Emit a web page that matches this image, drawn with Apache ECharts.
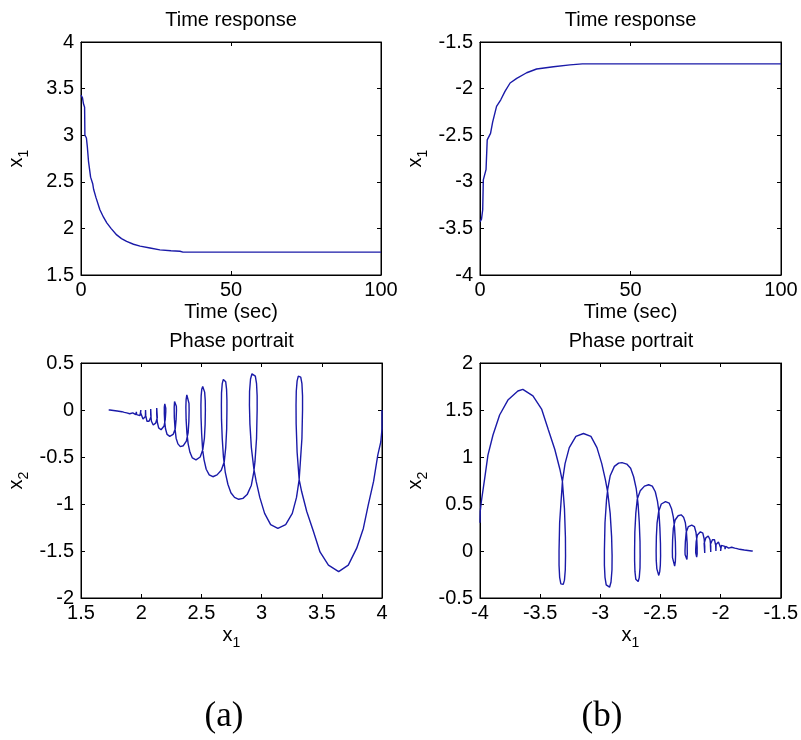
<!DOCTYPE html>
<html><head><meta charset="utf-8">
<script src="https://cdn.jsdelivr.net/npm/echarts/dist/echarts.min.js"></script>
<style>html,body{margin:0;padding:0;background:#fff}#c{width:801px;height:740px}</style>
</head><body><div id="c"></div>
<script>
// ---- data ----
const timeA_t  = [0,0.5,0.8,1.2,1.3,1.8,2.1,2.5,3.2,3.9,4.2,5,6.3,7.5,8.6,10,11.9,13.5,15.2,17.5,19.7,23,26.3,30,33,34,100];
const timeA_x1 = [3.43,3.40,3.34,3.30,3.00,2.97,2.88,2.72,2.55,2.48,2.42,2.33,2.20,2.12,2.06,2.00,1.93,1.89,1.86,1.83,1.81,1.79,1.77,1.76,1.755,1.745,1.745];
const timeB_t  = [0,0.5,0.9,1.1,2.0,2.4,3.5,4.2,5.5,6.9,8.3,10,12.2,15.5,18.8,24.4,29.9,34,100];
const timeB_x1 = [-3.43,-3.40,-3.30,-2.98,-2.87,-2.55,-2.48,-2.36,-2.19,-2.12,-2.03,-1.94,-1.89,-1.83,-1.79,-1.765,-1.745,-1.735,-1.735];

const phaseA = [
[4.000,0.000],[4.000,-0.200],[3.990,-0.340],[3.965,-0.480],[3.930,-0.760],[3.886,-1.010],[3.845,-1.260],[3.790,-1.470],[3.720,-1.650],[3.640,-1.720],[3.555,-1.650],[3.485,-1.510],[3.430,-1.290],[3.375,-1.080],[3.333,-0.870],[3.312,-0.740],[3.295,-0.450],[3.287,-0.150],
[3.286,0.050],[3.288,0.200],[3.295,0.310],[3.305,0.360],[3.315,0.370],[3.325,0.350],[3.335,0.280],[3.340,0.150],[3.340,0.000],
[3.335,-0.300],[3.322,-0.550],[3.312,-0.740],[3.290,-0.930],[3.255,-1.100],[3.200,-1.220],[3.135,-1.260],[3.075,-1.220],[3.025,-1.100],[2.985,-0.930],[2.955,-0.760],[2.935,-0.620],[2.915,-0.400],[2.903,-0.150],
[2.899,0.050],[2.900,0.200],[2.908,0.330],[2.920,0.385],[2.935,0.390],[2.948,0.360],[2.958,0.280],[2.963,0.150],[2.963,0.000],
[2.958,-0.300],[2.945,-0.550],[2.935,-0.660],[2.915,-0.800],[2.880,-0.900],[2.845,-0.940],[2.810,-0.950],[2.775,-0.930],[2.745,-0.880],[2.720,-0.790],[2.698,-0.660],[2.683,-0.500],[2.673,-0.300],[2.667,-0.100],
[2.666,0.050],[2.667,0.180],[2.673,0.280],[2.682,0.325],[2.692,0.330],[2.702,0.300],[2.709,0.220],[2.712,0.100],[2.712,0.000],
[2.710,-0.200],[2.702,-0.400],[2.690,-0.550],[2.665,-0.640],[2.630,-0.690],[2.595,-0.710],[2.565,-0.690],[2.540,-0.630],[2.522,-0.530],[2.510,-0.420],[2.502,-0.250],[2.497,-0.080],
[2.496,0.050],[2.498,0.150],[2.503,0.220],[2.511,0.250],[2.520,0.240],[2.527,0.190],[2.532,0.100],[2.533,0.000],
[2.531,-0.150],[2.525,-0.300],[2.512,-0.420],[2.490,-0.500],[2.455,-0.530],[2.425,-0.510],[2.405,-0.450],[2.390,-0.360],[2.380,-0.250],[2.373,-0.100],
[2.371,0.030],[2.373,0.110],[2.379,0.160],[2.386,0.170],[2.393,0.140],[2.397,0.070],[2.398,0.000],
[2.396,-0.120],[2.390,-0.240],[2.375,-0.330],[2.350,-0.380],[2.325,-0.390],[2.305,-0.360],[2.290,-0.300],[2.281,-0.200],[2.275,-0.080],
[2.274,0.030],[2.277,0.090],[2.283,0.110],[2.289,0.090],[2.292,0.040],[2.293,0.000],
[2.290,-0.100],[2.283,-0.200],[2.265,-0.260],[2.237,-0.280],[2.215,-0.260],[2.202,-0.200],[2.195,-0.120],[2.192,-0.040],
[2.192,0.030],[2.196,0.065],[2.201,0.060],[2.204,0.020],[2.204,-0.020],
[2.200,-0.100],[2.190,-0.170],[2.165,-0.210],[2.145,-0.190],[2.134,-0.130],[2.129,-0.050],
[2.129,0.020],[2.133,0.040],[2.137,0.030],[2.138,0.000],
[2.134,-0.080],[2.120,-0.140],[2.100,-0.160],[2.085,-0.120],[2.079,-0.050],
[2.079,0.010],[2.083,0.020],[2.086,0.000],
[2.082,-0.070],[2.065,-0.120],[2.048,-0.120],[2.038,-0.060],[2.036,0.000],[2.040,0.005],[2.042,-0.010],
[2.035,-0.070],[2.015,-0.095],[2.000,-0.080],[1.995,-0.030],[1.997,0.000],
[1.990,-0.060],[1.975,-0.075],[1.962,-0.050],[1.960,-0.020],
[1.955,-0.050],[1.940,-0.055],[1.930,-0.030],
[1.920,-0.040],[1.905,-0.040],[1.895,-0.025],
[1.880,-0.030],[1.860,-0.025],[1.840,-0.018],[1.800,-0.010],[1.770,-0.005],[1.740,0.000],[1.730,0.000]
];

const phaseB = [
[-4.000,0.300],[-3.998,0.420],[-3.989,0.524],[-3.961,0.773],[-3.934,1.020],[-3.892,1.234],[-3.837,1.447],[-3.768,1.606],[-3.685,1.702],[-3.644,1.720],[-3.560,1.650],[-3.488,1.510],[-3.432,1.290],[-3.378,1.080],[-3.336,0.870],[-3.315,0.740],[-3.298,0.450],[-3.290,0.150],
[-3.289,-0.050],[-3.291,-0.200],[-3.298,-0.310],[-3.308,-0.355],[-3.318,-0.370],[-3.328,-0.350],[-3.338,-0.280],[-3.343,-0.150],[-3.343,0.000],
[-3.338,0.300],[-3.325,0.550],[-3.315,0.740],[-3.293,0.930],[-3.258,1.100],[-3.203,1.220],[-3.140,1.250],[-3.078,1.220],[-3.028,1.100],[-2.988,0.930],[-2.958,0.760],[-2.938,0.620],[-2.918,0.400],[-2.906,0.150],
[-2.902,-0.050],[-2.903,-0.200],[-2.911,-0.330],[-2.923,-0.385],[-2.938,-0.395],[-2.951,-0.360],[-2.961,-0.280],[-2.966,-0.150],[-2.966,0.000],
[-2.961,0.300],[-2.948,0.550],[-2.938,0.660],[-2.918,0.800],[-2.883,0.900],[-2.848,0.935],[-2.820,0.940],[-2.780,0.925],[-2.748,0.880],[-2.723,0.790],[-2.701,0.660],[-2.686,0.500],[-2.676,0.300],[-2.670,0.100],
[-2.669,-0.050],[-2.670,-0.180],[-2.676,-0.280],[-2.685,-0.325],[-2.695,-0.330],[-2.705,-0.300],[-2.712,-0.220],[-2.715,-0.100],[-2.715,0.000],
[-2.713,0.200],[-2.705,0.400],[-2.693,0.550],[-2.668,0.640],[-2.633,0.690],[-2.598,0.705],[-2.568,0.690],[-2.543,0.630],[-2.525,0.530],[-2.513,0.420],[-2.505,0.250],[-2.500,0.080],
[-2.499,-0.050],[-2.501,-0.150],[-2.506,-0.220],[-2.514,-0.260],[-2.523,-0.245],[-2.530,-0.190],[-2.535,-0.100],[-2.536,0.000],
[-2.534,0.150],[-2.528,0.300],[-2.515,0.420],[-2.493,0.500],[-2.458,0.525],[-2.428,0.510],[-2.408,0.450],[-2.393,0.360],[-2.383,0.250],[-2.376,0.100],
[-2.374,-0.030],[-2.376,-0.110],[-2.382,-0.160],[-2.389,-0.170],[-2.396,-0.140],[-2.400,-0.070],[-2.401,0.000],
[-2.399,0.120],[-2.393,0.240],[-2.378,0.330],[-2.353,0.375],[-2.328,0.385],[-2.308,0.360],[-2.293,0.300],[-2.284,0.200],[-2.278,0.080],
[-2.277,-0.030],[-2.280,-0.090],[-2.286,-0.110],[-2.292,-0.090],[-2.295,-0.040],[-2.296,0.000],
[-2.293,0.100],[-2.286,0.200],[-2.268,0.260],[-2.240,0.275],[-2.218,0.260],[-2.205,0.200],[-2.198,0.120],[-2.195,0.040],
[-2.195,-0.030],[-2.199,-0.065],[-2.204,-0.060],[-2.207,-0.020],[-2.207,0.020],
[-2.203,0.100],[-2.193,0.170],[-2.168,0.205],[-2.148,0.190],[-2.137,0.130],[-2.132,0.050],
[-2.132,-0.020],[-2.136,-0.040],[-2.140,-0.030],[-2.141,0.000],
[-2.137,0.080],[-2.123,0.140],[-2.103,0.160],[-2.088,0.120],[-2.082,0.050],
[-2.082,-0.010],[-2.086,-0.020],[-2.089,0.000],
[-2.085,0.070],[-2.068,0.120],[-2.051,0.120],[-2.041,0.060],[-2.039,0.000],[-2.043,-0.005],[-2.045,0.010],
[-2.038,0.070],[-2.018,0.095],[-2.003,0.080],[-1.998,0.030],[-2.000,0.000],
[-1.993,0.060],[-1.978,0.075],[-1.965,0.050],[-1.963,0.020],
[-1.958,0.050],[-1.943,0.055],[-1.933,0.030],
[-1.923,0.040],[-1.908,0.040],[-1.898,0.025],
[-1.883,0.030],[-1.863,0.025],[-1.843,0.018],[-1.803,0.010],[-1.773,0.005],[-1.743,0.000],[-1.733,0.000]
];

const titles = ['Time response','Time response','Phase portrait','Phase portrait'];
const panelLabels = ['(a)','(b)'];
const xRanges = [[0,100,50],[0,100,50],[1.5,4,0.5],[-4,-1.5,0.5]];
const yRanges = [[1.5,4,0.5],[-4,-1.5,0.5],[-2,0.5,0.5],[-0.5,2,0.5]];

// ---- layout / style ----
const FONT = '"Liberation Sans", Arial, Helvetica, sans-serif';
const LINE = '#1a1aa8';
const grids = [
  {left:81, top:42, width:300, height:233},
  {left:480, top:42, width:301, height:233},
  {left:81, top:363, width:301, height:235},
  {left:480, top:363, width:302, height:235}
];
const rich = {
  i:{fontSize:20, fontFamily:FONT, color:'#000', lineHeight:30, verticalAlign:'middle'},
  s:{fontSize:14, fontFamily:FONT, color:'#000', lineHeight:14, verticalAlign:'bottom'}
};
function baseAxis(gi, r, pos, showLabel){
  return {
    type:'value', gridIndex:gi, min:r[0], max:r[1], interval:r[2], position:pos,
    axisLine:{show:true, onZero:false, lineStyle:{color:'#000', width:1}},
    axisTick:{show:true, inside:true, length:4, lineStyle:{color:'#000', width:1}},
    axisLabel:{show:showLabel, color:'#000', fontSize:20, fontFamily:FONT, margin:showLabel?(pos==='bottom'?5:7):0},
    splitLine:{show:false}
  };
}
const xAxes = [], yAxes = [];
for (let g=0; g<4; g++){
  const xa = baseAxis(g, xRanges[g], 'bottom', true);
  xa.nameLocation = 'middle';
  if (g<2){ xa.name = 'Time (sec)'; xa.nameGap = 27; xa.nameTextStyle = {fontSize:20, fontFamily:FONT, color:'#000'}; }
  else { xa.name = '{i|x}{s|1}'; xa.nameGap = 22; xa.nameTextStyle = {rich}; }
  xAxes.push(xa);
  const ya = baseAxis(g, yRanges[g], 'left', true);
  ya.nameLocation = 'middle'; ya.nameGap = 50;
  ya.name = g<2 ? '{i|x}{s|1}' : '{i|x}{s|2}';
  ya.nameTextStyle = {rich};
  yAxes.push(ya);
}
for (let g=0; g<4; g++){
  xAxes.push(baseAxis(g, xRanges[g], 'top', false));
  yAxes.push(baseAxis(g, yRanges[g], 'right', false));
}
const seriesData = [
  timeA_t.map((t,i)=>[t, timeA_x1[i]]),
  timeB_t.map((t,i)=>[t, timeB_x1[i]]),
  phaseA,
  phaseB
];
const series = seriesData.map((d,g)=>({
  type:'line', xAxisIndex:g, yAxisIndex:g, data:d, showSymbol:false, symbol:'none',
  lineStyle:{color:LINE, width:1.4}, animation:false, sampling:null, clip:true
}));
const graphic = [];
grids.forEach((gr,g)=>{
  graphic.push({type:'text', x: gr.left + gr.width/2, y: gr.top - 22,
    style:{text:titles[g], fill:'#000', font:'20px '+FONT, textAlign:'center', textVerticalAlign:'middle'}});
});
graphic.push({type:'text', x:224, y:717, style:{text:panelLabels[0], fill:'#000', font:'35px "Liberation Serif", "Times New Roman", serif', textAlign:'center', textVerticalAlign:'middle'}});
graphic.push({type:'text', x:602, y:717, style:{text:panelLabels[1], fill:'#000', font:'35px "Liberation Serif", "Times New Roman", serif', textAlign:'center', textVerticalAlign:'middle'}});

const chart = echarts.init(document.getElementById('c'), null, {renderer:'canvas'});
chart.setOption({
  backgroundColor:'#fff',
  animation:false,
  grid: grids.map(g=>Object.assign({show:true, borderColor:'#000', borderWidth:1, backgroundColor:'#fff', containLabel:false}, g)),
  xAxis: xAxes, yAxis: yAxes, series, graphic
});
</script></body></html>
